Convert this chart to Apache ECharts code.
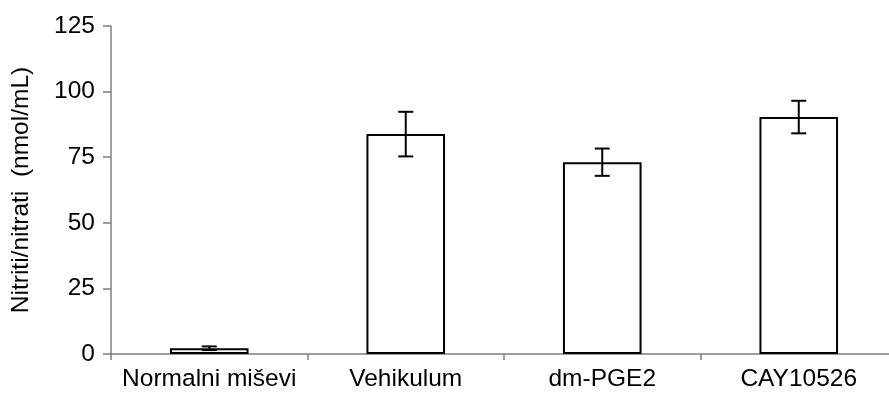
<!DOCTYPE html>
<html>
<head>
<meta charset="utf-8">
<script src="https://cdn.jsdelivr.net/npm/echarts@6/dist/echarts.min.js"></script>
<style>
  html, body { margin: 0; padding: 0; background: #fff; }
  #chart { width: 889px; height: 399px; }
</style>
</head>
<body>
<div id="chart"></div>
<script>
// Groups, mean nitrite/nitrate level and its error (± SEM)
const categories = ['Normalni miševi', 'Vehikulum', 'dm-PGE2', 'CAY10526'];
const means = [2.2, 83.8, 73.1, 90.3];
const errors = [0.7, 8.5, 5.2, 6.2];
const yTicks = [0, 25, 50, 75, 100, 125];

const FONT = '"Liberation Sans", Arial, sans-serif';
const FONT_SIZE = 24.5;
const AXIS_COLOR = '#7f7f7f';

const chart = echarts.init(document.getElementById('chart'));

const errorData = categories.map((c, i) => [i, means[i] - errors[i], means[i] + errors[i]]);

chart.setOption({
  animation: false,
  backgroundColor: '#ffffff',
  grid: {
    left: 111,
    top: 26,
    width: 786,
    height: 328,
    outerBoundsMode: 'none'
  },
  xAxis: {
    type: 'category',
    data: categories,
    boundaryGap: true,
    axisLine: { lineStyle: { color: AXIS_COLOR, width: 1.5 } },
    axisTick: { show: true, length: 6, lineStyle: { color: AXIS_COLOR, width: 1.5 } },
    axisLabel: { color: '#000', fontFamily: FONT, fontSize: FONT_SIZE, margin: 13, interval: 0 },
    splitLine: { show: false }
  },
  yAxis: {
    type: 'value',
    min: yTicks[0],
    max: yTicks[yTicks.length - 1],
    interval: yTicks[1] - yTicks[0],
    name: 'Nitriti/nitrati  (nmol/mL)',
    nameLocation: 'middle',
    nameGap: 77,
    nameTextStyle: { color: '#000', fontFamily: FONT, fontSize: FONT_SIZE },
    axisLine: { show: true, lineStyle: { color: AXIS_COLOR, width: 1.5 } },
    axisTick: { show: true, length: 8, lineStyle: { color: AXIS_COLOR, width: 1.5 } },
    axisLabel: { color: '#000', fontFamily: FONT, fontSize: FONT_SIZE, margin: 16 },
    splitLine: { show: false }
  },
  series: [
    {
      type: 'bar',
      data: means,
      barWidth: '40%',
      itemStyle: { color: '#ffffff', borderColor: '#000000', borderWidth: 2 },
      z: 2
    },
    {
      type: 'custom',
      data: errorData,
      z: 3,
      renderItem: function (params, api) {
        const idx = api.value(0);
        const lo = api.coord([idx, api.value(1)]);
        const hi = api.coord([idx, api.value(2)]);
        const half = 7.5;
        const style = { stroke: '#000000', lineWidth: 2 };
        return {
          type: 'group',
          children: [
            { type: 'line', shape: { x1: hi[0], y1: hi[1], x2: lo[0], y2: lo[1] }, style: style },
            { type: 'line', shape: { x1: hi[0] - half, y1: hi[1], x2: hi[0] + half, y2: hi[1] }, style: style },
            { type: 'line', shape: { x1: lo[0] - half, y1: lo[1], x2: lo[0] + half, y2: lo[1] }, style: style }
          ]
        };
      }
    }
  ]
});
</script>
</body>
</html>
